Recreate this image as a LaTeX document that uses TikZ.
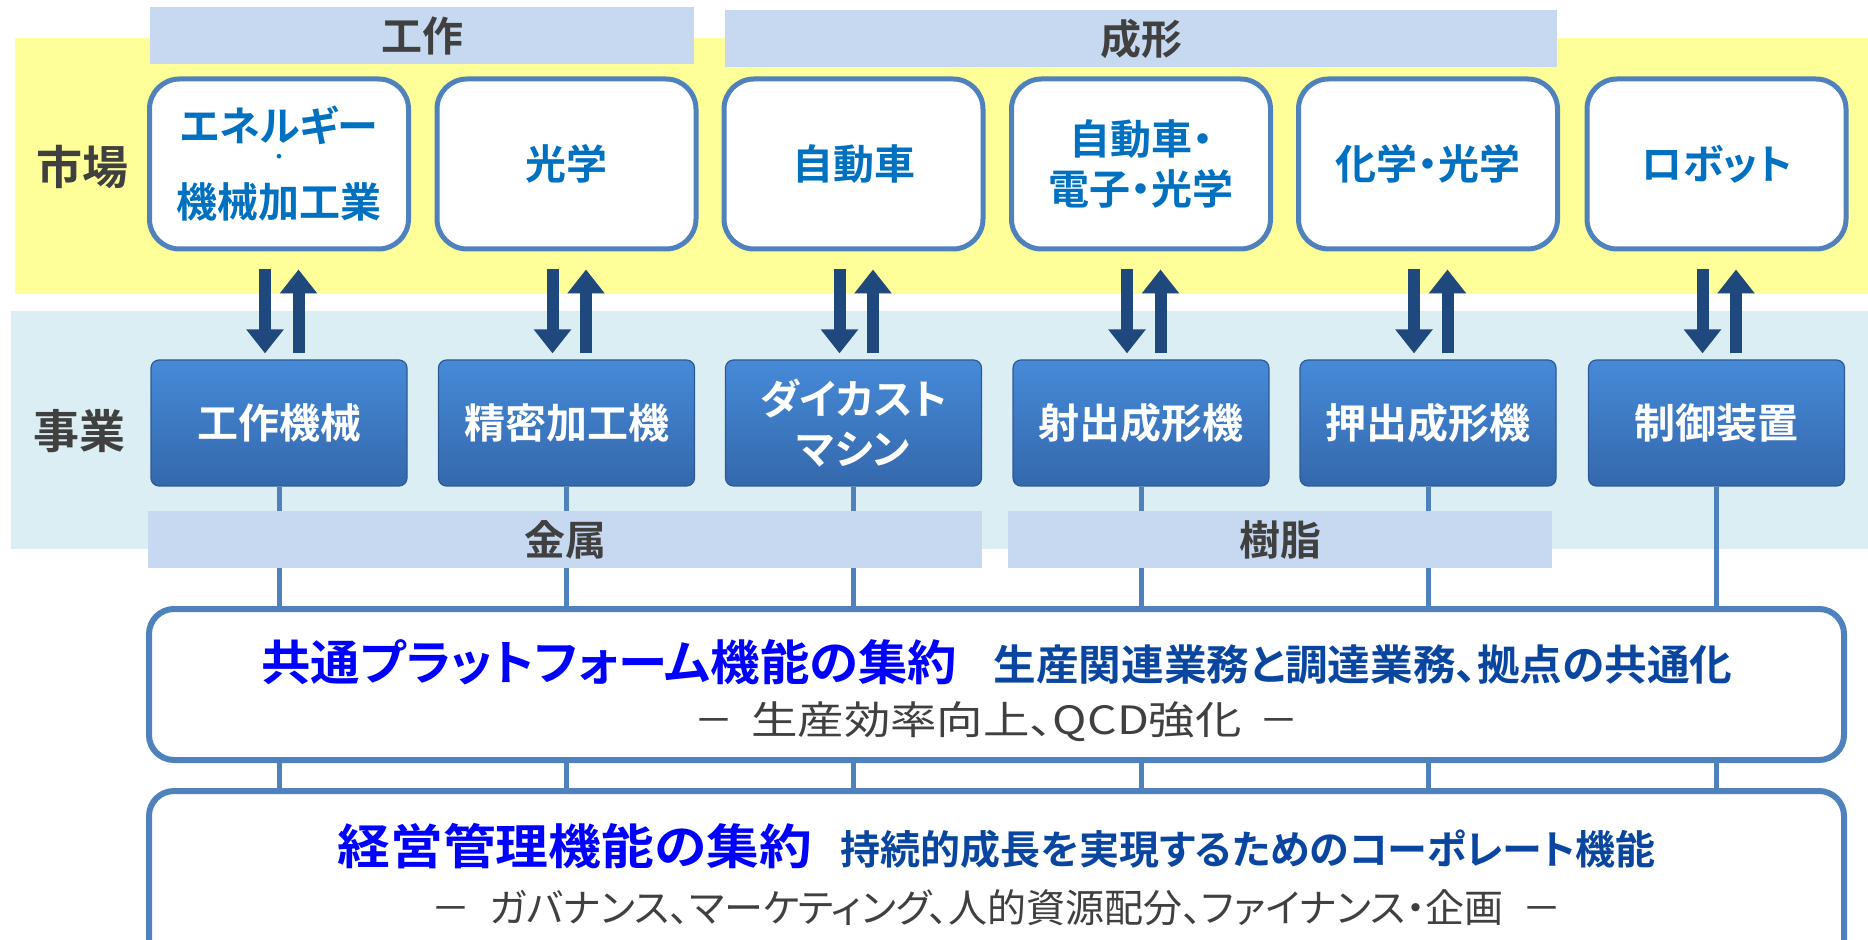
\documentclass[tikz,border=0pt]{standalone}
\usepackage{graphicx}
\usepackage{fontspec}
\setmainfont{Noto Sans CJK JP}[CharacterWidth=AlternateProportional, BoldFont={Noto Sans CJK JP Bold}]
\usetikzlibrary{arrows.meta,calc}
\definecolor{yellowbg}{RGB}{255,255,153}
\definecolor{lightbg}{RGB}{219,238,244}
\definecolor{bandblue}{RGB}{198,217,240}
\definecolor{boxborder}{RGB}{79,129,189}
\definecolor{mtext}{RGB}{0,112,192}
\definecolor{arrowc}{RGB}{31,73,125}
\definecolor{darkgray}{RGB}{64,64,64}
\definecolor{pureblue}{RGB}{0,0,255}
\definecolor{navytext}{RGB}{10,70,160}
\definecolor{biztop}{RGB}{70,138,216}
\definecolor{bizbot}{RGB}{52,104,172}
\definecolor{bizedge}{RGB}{45,90,150}
\tikzset{
  mbox/.style={draw=boxborder, line width=2.5pt, fill=white, rounded corners=15pt,
    minimum width=129.5pt, minimum height=85pt, align=center, text=mtext,
    font=\bfseries\fontsize{20.5}{25}\selectfont, inner sep=0pt},
  bizbox/.style={draw=bizedge, line width=0.6pt, top color=biztop, bottom color=bizbot,
    rounded corners=4pt, minimum width=128pt, minimum height=63pt, align=center,
    text=white, font=\bfseries\fontsize{20.5}{25}\selectfont, inner sep=0pt},
  band/.style={fill=bandblue, minimum height=28.5pt, inner sep=0pt, text=darkgray,
    font=\bfseries\fontsize{20.5}{24}\selectfont},
  sidelab/.style={text=darkgray, font=\bfseries\fontsize{23}{26}\selectfont, inner sep=0pt},
  bigbox/.style={draw=boxborder, line width=3pt, fill=white, rounded corners=12.5pt,
    minimum width=847.5pt, inner sep=0pt},
  vline/.style={draw=boxborder, line width=2.5pt},
  updown/.style={draw=arrowc, line width=6pt, -{Triangle[width=18pt,length=12pt]}},
  bigtext/.style={text=pureblue, font=\bfseries\fontsize{24}{27}\selectfont, inner sep=0pt},
  subtext/.style={text=navytext, font=\bfseries\fontsize{20}{24}\selectfont, inner sep=0pt},
  graytext/.style={text=darkgray, font=\fontsize{19.5}{23}\selectfont, inner sep=0pt}
}
\begin{document}
\begin{tikzpicture}[x=0.5pt,y=-0.5pt]
\useasboundingbox (0,0) rectangle (1868,940);
\clip (0,0) rectangle (1868,940);
% background bands
\fill[yellowbg] (15,38) rectangle (1868,294);
\fill[lightbg] (11,311) rectangle (1868,549);
% side labels
\node[sidelab] (shijo) at (82,167) {市場};
\node[sidelab] (jigyo) at (79,431) {事業};
% top bands
\node[band, minimum width=272pt] (kosaku) at (422,35.5) {工作};
\node[band, minimum width=416pt] (seikei) at (1141,39) {成形};
% market boxes
\node[mbox] (m1) at (279,164) {エネルギー\\[-14pt]{\fontsize{9}{9}\selectfont ・}\\[2pt]機械加工業};
\node[mbox] (m2) at (566.5,164) {光学};
\node[mbox] (m3) at (853.5,164) {自動車};
\node[mbox] (m4) at (1141,164) {自動車・\\電子・光学};
\node[mbox] (m5) at (1428,164) {化学・光学};
\node[mbox] (m6) at (1716.5,164) {ロボット};
% business boxes
\node[bizbox] (b1) at (279,423) {工作機械};
\node[bizbox] (b2) at (566.5,423) {精密加工機};
\node[bizbox] (b3) at (853.5,423) {ダイカスト\\マシン};
\node[bizbox] (b4) at (1141,423) {射出成形機};
\node[bizbox] (b5) at (1428,423) {押出成形機};
\node[bizbox] (b6) at (1716.5,423) {制御装置};
% big boxes
\node[bigbox, minimum height=75.5pt] (box1) at (996.5,684.5) {};
\node[bigbox, minimum height=104.5pt] (box2) at (996.5,895.5) {};
% vertical connectors
\foreach \i in {1,...,6}{
  \draw[vline] (b\i.south) -- (b\i.south |- box1.north);
  \draw[vline] (b\i.south |- box1.south) -- (b\i.south |- box2.north);
}
% lower bands (over the connectors)
\node[band, minimum width=417pt] (kinzoku) at (565,539.5) {金属};
\node[band, minimum width=272pt] (jushi) at (1280,539.5) {樹脂};
% arrows between market and business
\foreach \i in {1,...,6}{
  \draw[updown] ([xshift=-7pt,yshift=-9pt]m\i.south) -- ([xshift=-7pt,yshift=3pt]b\i.north);
  \draw[updown] ([xshift=9.75pt,yshift=3pt]b\i.north) -- ([xshift=9.75pt,yshift=-9pt]m\i.south);
}
% texts in big boxes
\node[anchor=base west, bigtext] (t1a) at (261,680) {\scalebox{1.03}[1]{共通プラットフォーム機能の集約}};
\node[anchor=base east, subtext, font=\bfseries\fontsize{21}{24}\selectfont] (t1b) at (1733,680) {\scalebox{1.016}[1]{生産関連業務と調達業務、拠点の共通化}};
\node[graytext] (t1c) at (996.5,722) {－\hspace{0.45em}\scalebox{1.19}[1]{生産効率向上、QCD強化}\hspace{0.45em}－};
\node[anchor=base west, bigtext] (t2a) at (337,864) {\scalebox{1.10}[1]{経営管理機能の集約}};
\node[anchor=base east, subtext] (t2b) at (1656,864) {持続的成長を実現するためのコーポレート機能};
\node[graytext] (t2c) at (996.5,908) {－\hspace{0.5em}ガバナンス、マーケティング、人的資源配分、ファイナンス・企画\hspace{0.5em}－};
\end{tikzpicture}
\end{document}
